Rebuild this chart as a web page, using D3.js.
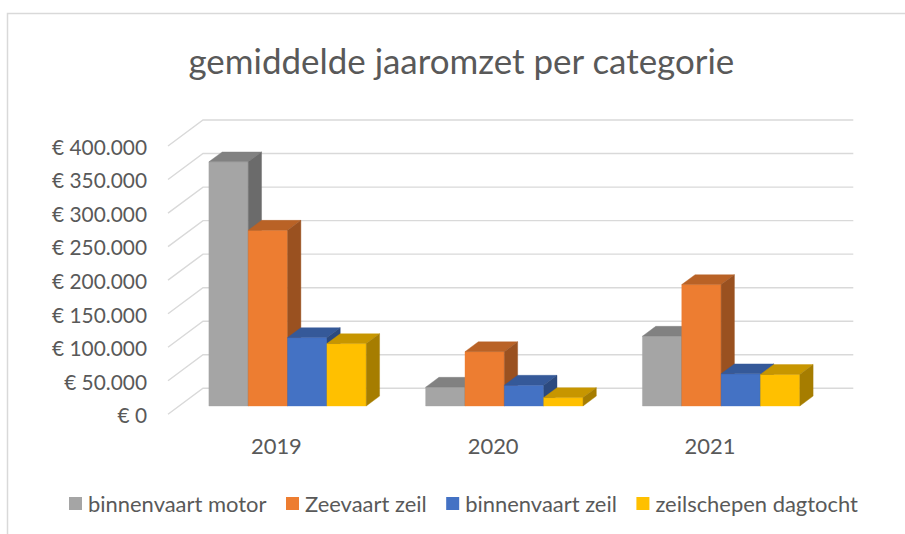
<html><head>
<title>gemiddelde jaaromzet per categorie</title>
<script src="https://d3js.org/d3.v7.min.js"></script>
<style>
  body { margin: 0; background: #fff; }
  text { font-family: Lato, "Open Sans", sans-serif; fill: #595959; }
</style>
</head>
<body>
<svg id="chart" width="905" height="534"></svg>
<script>
// values (euro)
const years = ["2019", "2020", "2021"];
const seriesNames = ["binnenvaart motor", "Zeevaart zeil", "binnenvaart zeil", "zeilschepen dagtocht"];
const binnenvaartMotor = [364000, 28000, 104000];
const zeevaartZeil = [262000, 81000, 181000];
const binnenvaartZeil = [102000, 31000, 48000];
const zeilschepenDagtocht = [93000, 12500, 47000];
const yTicks = [0, 50000, 100000, 150000, 200000, 250000, 300000, 350000, 400000];

const seriesValues = [binnenvaartMotor, zeevaartZeil, binnenvaartZeil, zeilschepenDagtocht];
const colors = ["#a5a5a5", "#ed7d31", "#4472c4", "#ffc000"];

let svg = d3.select("svg#chart");

// chart frame (right and bottom edge fall outside the picture)
svg.append("rect")
  .attr("x", 7.5).attr("y", 13.5)
  .attr("width", 930).attr("height", 560)
  .attr("fill", "none").attr("stroke", "#d9d9d9").attr("stroke-width", 1.5);

// fake 3d: the front plane holds the labels, depth shifts things up and to the right
const depthX = 35, depthY = 26;
const front = { left: 168, right: 818.3 };
const barFront = 0.32, barBack = 0.70; // where the bars sit between front (0) and back wall (1)

let x0 = d3.scaleBand().domain(years).range([front.left, front.right])
  .paddingInner(0.274).paddingOuter(0.137);
let x1 = d3.scaleBand().domain(seriesNames).range([0, x0.bandwidth()]);
let y = d3.scaleLinear().domain([0, 400000]).range([414.3, 146]);

function pt(x, v, t) { return [x + t * depthX, y(v) - t * depthY]; }
function poly(points) { return "M" + points.map(p => p.join(",")).join("L") + "Z"; }
function shade(c, k) { let r = d3.rgb(c); return d3.rgb(r.r * k, r.g * k, r.b * k).toString(); }

// text sizes: Calibri isn't here, so size Lato to the widths seen in the picture
function textWidth(str, size) {
  let t = svg.append("text").style("font-size", size + "px").text(str);
  let w = t.node().getComputedTextLength();
  t.remove();
  return w;
}
function fitSize(strs, target) {
  let w = d3.sum(strs, s => textWidth(s, 20));
  return 20 * target / w;
}
const legendSize = fitSize(seriesNames, 655);
const yLabelSize = fitSize(["€ 400.000"], 95);
const titleSize = fitSize(["gemiddelde jaaromzet per categorie"], 546);

// gridlines: side wall diagonal, then along the back wall
svg.append("g").selectAll("path")
  .data(yTicks)
  .join("path")
  .attr("d", v => "M" + pt(front.left, v, 0).join(",") + "L" + pt(front.left, v, 1).join(",")
                + "L" + [front.right + depthX, y(v) - depthY].join(","))
  .attr("fill", "none")
  .attr("stroke", "#d9d9d9")
  .attr("stroke-width", 1.4);

// one row per bar, drawn left to right so the next bar covers the side of the one before
let rows = [];
years.forEach((yr, i) => {
  seriesNames.forEach((name, j) => {
    rows.push({ year: yr, name: name, value: seriesValues[j][i], color: colors[j] });
  });
});

let bars = svg.append("g").selectAll("g")
  .data(rows)
  .join("g");

bars.append("path") // front
  .attr("d", d => {
    let a = x0(d.year) + x1(d.name), b = a + x1.bandwidth();
    return poly([pt(a, d.value, barFront), pt(b, d.value, barFront), pt(b, 0, barFront), pt(a, 0, barFront)]);
  })
  .attr("fill", d => d.color).attr("stroke", d => d.color).attr("stroke-width", 0.4);

bars.append("path") // top
  .attr("d", d => {
    let a = x0(d.year) + x1(d.name), b = a + x1.bandwidth();
    return poly([pt(a, d.value, barFront), pt(b, d.value, barFront), pt(b, d.value, barBack), pt(a, d.value, barBack)]);
  })
  .attr("fill", d => shade(d.color, 0.78)).attr("stroke", d => shade(d.color, 0.78)).attr("stroke-width", 0.4);

bars.append("path") // right side
  .attr("d", d => {
    let b = x0(d.year) + x1(d.name) + x1.bandwidth();
    return poly([pt(b, d.value, barFront), pt(b, d.value, barBack), pt(b, 0, barBack), pt(b, 0, barFront)]);
  })
  .attr("fill", d => shade(d.color, 0.65)).attr("stroke", d => shade(d.color, 0.65)).attr("stroke-width", 0.4);

// axes
const euro = d3.formatLocale({ decimal: ",", thousands: ".", grouping: [3], currency: ["€ ", ""] }).format("$,");

svg.append("g")
  .attr("transform", "translate(" + front.left + ",0)")
  .call(d3.axisLeft(y).tickValues(yTicks).tickFormat(euro).tickSize(0).tickPadding(21))
  .call(g => g.select(".domain").remove())
  .selectAll("text")
  .style("font-size", yLabelSize + "px")
  .attr("dy", "0.4em");

svg.append("g")
  .attr("transform", "translate(0," + y(0) + ")")
  .call(d3.axisBottom(x0).tickSize(0).tickPadding(24))
  .call(g => g.select(".domain").remove())
  .selectAll("text")
  .style("font-size", legendSize + "px");

// title
svg.append("text")
  .attr("x", 461.4).attr("y", 74)
  .attr("text-anchor", "middle")
  .style("font-size", titleSize + "px")
  .text("gemiddelde jaaromzet per categorie");

// legend
let lx = 69;
seriesNames.forEach((name, j) => {
  svg.append("rect")
    .attr("x", lx).attr("y", 497)
    .attr("width", 13).attr("height", 13)
    .attr("fill", colors[j]);
  let t = svg.append("text")
    .attr("x", lx + 19).attr("y", 503.5)
    .attr("dominant-baseline", "central")
    .style("font-size", legendSize + "px")
    .text(name);
  lx += 19 + t.node().getComputedTextLength() + 19.5;
});
</script>
</body>
</html>
